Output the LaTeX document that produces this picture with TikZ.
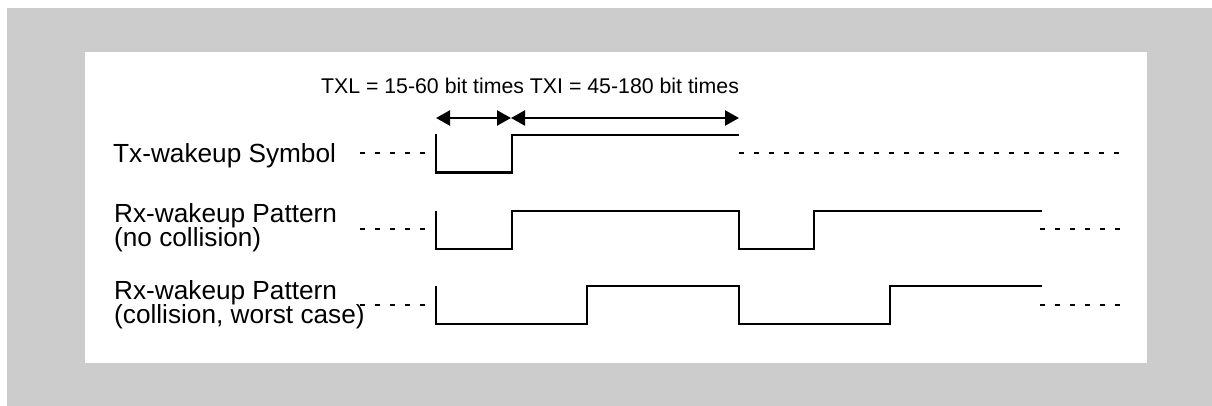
\documentclass[tikz,border=0pt]{standalone}
\usepackage{fontspec}
\setmainfont{Liberation Sans}
\usetikzlibrary{arrows.meta}
\definecolor{framegray}{HTML}{CCCCCC}
\tikzset{
  lbl/.style={anchor=base west, inner sep=0pt, font=\fontsize{26.2}{26}\selectfont},
  toplbl/.style={anchor=base, inner sep=0pt, font=\fontsize{21.3}{24}\selectfont},
  sig/.style={line width=2.6pt, line join=miter},
  dots/.style={line width=2.3pt, dash pattern=on 5pt off 10pt},
  dim/.style={line width=2.3pt, {Triangle[length=14pt,width=15pt]}-{Triangle[length=14pt,width=15pt]}}
}
\begin{document}
\begin{tikzpicture}[x=1pt,y=-1pt]
\useasboundingbox (0,0) rectangle (1212,406);
\fill[white] (0,0) rectangle (1212,406);
\fill[framegray] (7,8) rectangle (1212,406);
\fill[white] (85,52) rectangle (1147,363);

% top label
\node[toplbl] (toptxt) at (530,93.3) {TXL = 15-60 bit times TXI = 45-180 bit times};

% dimension arrows
\coordinate (a0) at (436,118);
\coordinate (a1) at (511,118);
\coordinate (a2) at (739,118);
\draw[dim] (a0) -- (a1);
\draw[dim] (a1) -- (a2);

% labels
\node[lbl] (txlab) at (113,163) {Tx-wakeup Symbol};
\node[lbl] (rx1a) at (114,222.5) {Rx-wakeup Pattern};
\node[lbl] (rx1b) at (114,246.5) {(no collision)};
\node[lbl] (rx2a) at (114,299.5) {Rx-wakeup Pattern};
\node[lbl] (rx2b) at (114,323.5) {(collision, worst case)};

% Tx row
\coordinate (t0) at (360,153);
\coordinate (t1) at (436,153);
\draw[dots] (t0) -- (t1);
\draw[sig] (436,134) -- (436,172.7) -- (512,172.7) -- (512,135) -- (739,135);
\coordinate (t2) at (739,153);
\coordinate (t3) at (1120,153);
\draw[dots] (t2) -- (t3);

% Rx row 1
\coordinate (r0) at (360,229);
\coordinate (r1) at (436,229);
\draw[dots] (r0) -- (r1);
\draw[sig] (436,211) -- (436,249) -- (512,249) -- (512,211) -- (739,211) -- (739,249) -- (814,249) -- (814,211) -- (1042,211);
\coordinate (r2) at (1040,229);
\coordinate (r3) at (1120,229);
\draw[dots] (r2) -- (r3);

% Rx row 2
\coordinate (s0) at (360,305);
\coordinate (s1) at (436,305);
\draw[dots] (s0) -- (s1);
\draw[sig] (436,286) -- (436,324) -- (587,324) -- (587,286) -- (739,286) -- (739,324) -- (890,324) -- (890,286) -- (1042,286);
\coordinate (s2) at (1040,305);
\coordinate (s3) at (1120,305);
\draw[dots] (s2) -- (s3);
\end{tikzpicture}
\end{document}
